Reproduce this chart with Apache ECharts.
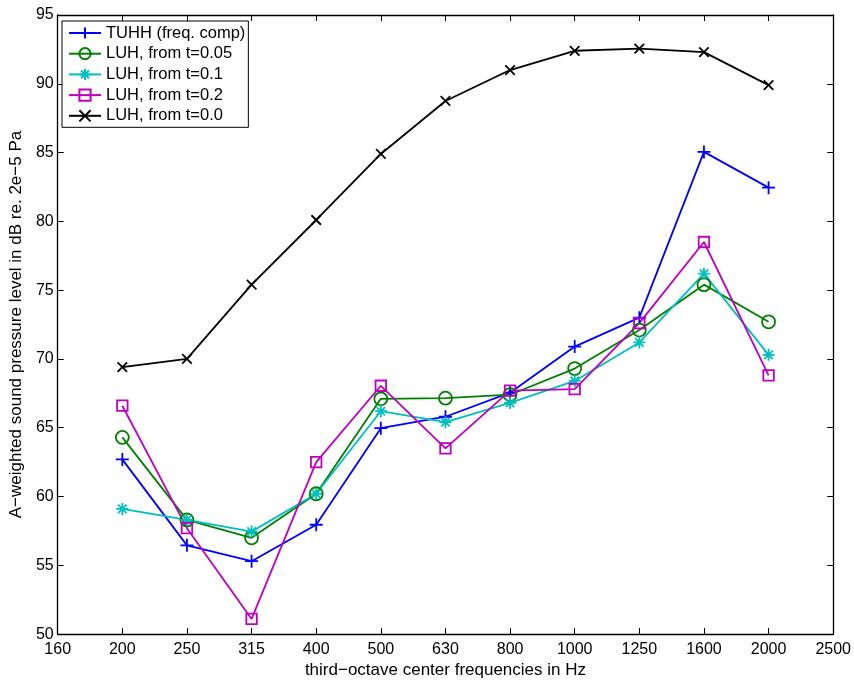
<!DOCTYPE html>
<html>
<head>
<meta charset="utf-8">
<script src="https://cdn.jsdelivr.net/npm/echarts@6/dist/echarts.min.js"></script>
<style>html,body{margin:0;padding:0;background:#fff}#c{width:854px;height:684px}</style>
</head>
<body>
<div id="c"></div>
<script>
var tickLabels = ['160','200','250','315','400','500','630','800','1000','1250','1600','2000','2500'];
var freqs = ['200','250','315','400','500','630','800','1000','1250','1600','2000'];
var tuhh = [62.7, 56.45, 55.3, 57.95, 64.97, 65.8, 67.55, 70.9, 73.0, 85.05, 82.45];
var luh005 = [64.3, 58.3, 57.0, 60.2, 67.1, 67.15, 67.4, 69.3, 72.1, 75.4, 72.7];
var luh01 = [59.1, 58.3, 57.45, 60.2, 66.2, 65.4, 66.8, 68.4, 71.2, 76.2, 70.3];
var luh02 = [66.6, 57.7, 51.1, 62.5, 68.05, 63.5, 67.7, 67.8, 72.6, 78.5, 68.8];
var luh00 = [69.4, 70.0, 75.4, 80.1, 84.9, 88.75, 91.0, 92.4, 92.55, 92.3, 89.9];
var seriesNames = ['TUHH (freq. comp)', 'LUH, from t=0.05', 'LUH, from t=0.1', 'LUH, from t=0.2', 'LUH, from t=0.0'];

function pairs(vals){ return freqs.map(function(f,i){ return [f, vals[i]]; }); }

var FONT = '"Liberation Sans", Arial, sans-serif';
var styles = [
  {c:'#0000ff', sym:'path://M0,5L10,5M5,0L5,10', size:13},
  {c:'#008000', sym:'circle', size:13},
  {c:'#00bfbf', sym:'path://M0,5L10,5M5,0L5,10M1.5,1.5L8.5,8.5M1.5,8.5L8.5,1.5', size:12},
  {c:'#bf00bf', sym:'rect', size:10.5},
  {c:'#000000', sym:'path://M0,0L10,10M0,10L10,0', size:9.5}
];
var dataSets = [tuhh, luh005, luh01, luh02, luh00];

var series = dataSets.map(function(d, i){
  var s = styles[i];
  return {
    name: seriesNames[i],
    type: 'line',
    xAxisIndex: 0, yAxisIndex: 0,
    data: pairs(d),
    symbol: s.sym,
    symbolSize: s.size,
    showAllSymbol: true,
    lineStyle: {color: s.c, width: 1.8},
    itemStyle: {color: 'rgba(255,255,255,0)', borderColor: s.c, borderWidth: 1.8},
    emphasis: {disabled: true},
    animation: false
  };
});

var axisLineStyle = {color: '#000', width: 1.3};
var chart = echarts.init(document.getElementById('c'), null, {renderer: 'canvas'});
chart.setOption({
  animation: false,
  backgroundColor: '#fff',
  grid: {left: 57, right: 20, top: 15, bottom: 41, containLabel: false},
  legend: {
    orient: 'vertical',
    left: 62, top: 21,
    backgroundColor: '#fff',
    borderColor: '#000', borderWidth: 1,
    padding: [3.5, 3, 3, 6],
    itemWidth: 32, itemHeight: 14, itemGap: 3.7,
    textStyle: {fontFamily: FONT, fontSize: 16.5, lineHeight: 17, color: '#000'},
    data: seriesNames
  },
  xAxis: [{
    type: 'category', data: tickLabels, boundaryGap: false, position: 'bottom',
    axisLine: {lineStyle: axisLineStyle},
    axisTick: {inside: true, length: 6, lineStyle: {color: '#000'}},
    axisLabel: {fontFamily: FONT, fontSize: 16, color: '#000', margin: 7, interval: 0},
    splitLine: {show: false},
    name: 'third\u2212octave center frequencies in Hz',
    nameLocation: 'middle', nameGap: 21.5,
    nameTextStyle: {fontFamily: FONT, fontSize: 17, color: '#000', verticalAlign: 'top'}
  }, {
    type: 'category', data: tickLabels, boundaryGap: false, position: 'top',
    axisLine: {lineStyle: axisLineStyle},
    axisTick: {inside: true, length: 6, lineStyle: {color: '#000'}},
    axisLabel: {show: false}, splitLine: {show: false}
  }],
  yAxis: [{
    type: 'value', min: 50, max: 95, interval: 5, position: 'left',
    axisLine: {show: true, lineStyle: axisLineStyle},
    axisTick: {show: true, inside: true, length: 6, lineStyle: {color: '#000'}},
    axisLabel: {fontFamily: FONT, fontSize: 16, color: '#000', margin: 4},
    splitLine: {show: false},
    name: 'A\u2212weighted sound pressure level in dB re. 2e\u22125 Pa',
    nameLocation: 'middle', nameGap: 26.5,
    nameTextStyle: {fontFamily: FONT, fontSize: 17, color: '#000'}
  }, {
    type: 'value', min: 50, max: 95, interval: 5, position: 'right',
    axisLine: {show: true, lineStyle: axisLineStyle},
    axisTick: {show: true, inside: true, length: 6, lineStyle: {color: '#000'}},
    axisLabel: {show: false}, splitLine: {show: false}
  }],
  series: series
});
</script>
</body>
</html>
